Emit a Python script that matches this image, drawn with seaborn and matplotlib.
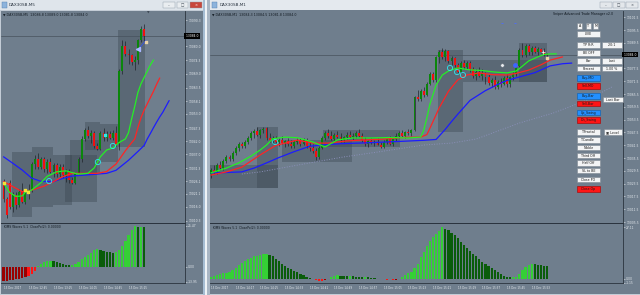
import numpy as np
import pandas as pd
import matplotlib
matplotlib.use("Agg")
import matplotlib.pyplot as plt
from matplotlib.patches import Rectangle
from matplotlib.transforms import blended_transform_factory
import seaborn as sns

sns.set_style("white")
plt.rcParams['font.family'] = ['DejaVu Sans']

# ======================= DATA : left chart (DAX30SB, M5) =======================
left_open = [13026, 13019, 13025.5, 13016, 13020.5, 13016.5, 13022, 13018, 13021.5, 13022.5,
             13033, 13035, 13032, 13035, 13031, 13034, 13030, 13032.5, 13029, 13032,
             13028.5, 13030, 13026.5, 13025.5, 13029.5, 13035, 13043, 13046.5, 13044, 13045.5,
             13040, 13039, 13045.5, 13043.5, 13045, 13043.5, 13045.5, 13041, 13070, 13080,
             13077, 13076.5, 13073.5, 13074.5, 13082.5, 13086.8]
left_high = [13027, 13020, 13026.5, 13022, 13022, 13023, 13025.5, 13023, 13025, 13034,
             13036.5, 13037.5, 13036, 13036, 13035, 13035.5, 13033.5, 13033.5, 13033, 13033,
             13031, 13031, 13028, 13030, 13036, 13044, 13047.5, 13048, 13046.5, 13046,
             13041.5, 13046, 13047.5, 13046, 13046, 13046.5, 13048, 13071, 13082.5, 13082,
             13079, 13077, 13076, 13083, 13088, 13089]
left_low = [13018, 13011.5, 13015, 13014, 13015, 13016, 13017.5, 13017, 13019, 13022,
            13031, 13031, 13031, 13030, 13029.5, 13029.5, 13028, 13028, 13028, 13027.5,
            13026, 13025.5, 13025, 13025, 13029, 13034, 13042, 13043.5, 13041.5, 13039.5,
            13038.5, 13038.5, 13042, 13042, 13043, 13042.5, 13040, 13038.5, 13069, 13076,
            13073, 13072.5, 13070.5, 13073, 13081.5, 13081.8]
left_close = [13019, 13012.5, 13016, 13020.5, 13016.5, 13022, 13018, 13021.5, 13022.5, 13033,
              13035, 13032, 13035, 13031, 13034, 13030, 13032.5, 13029, 13032, 13028.5,
              13030, 13026.5, 13025.5, 13029.5, 13035, 13043, 13046.5, 13044, 13045.5, 13040,
              13039, 13045.5, 13043.5, 13045, 13043.5, 13045.5, 13041, 13070, 13080, 13077,
              13076.5, 13073.5, 13074.5, 13082.5, 13086.8, 13084.0]

lips_L_bar = [0, 2, 4, 6, 7, 9, 12, 14, 17, 20, 22, 24, 27, 29, 31, 33, 35, 37, 39, 40, 41, 42, 43, 44, 45, 46, 47, 48]
lips_L_val = [13025.3, 13021.6, 13020.1, 13020.3, 13021.8, 13022.6, 13025.6, 13028.1, 13029.9, 13030.3,
              13029.6, 13029.0, 13029.3, 13031.4, 13035.9, 13038.6, 13039.4, 13041.6, 13043.0, 13045.5,
              13051.0, 13056.0, 13061.5, 13065.0, 13067.5, 13070.0, 13072.5, 13074.5]
teeth_L_bar = [0, 3, 6, 9, 13, 16, 19, 22, 26, 30, 33, 36, 39, 41, 42, 43, 44, 45, 46, 47, 48, 49, 50]
teeth_L_val = [13026.0, 13024.0, 13022.0, 13022.6, 13024.2, 13026.0, 13028.0, 13029.3, 13029.3, 13029.3,
               13030.0, 13033.0, 13038.3, 13041.5, 13043.0, 13047.5, 13051.5, 13054.5, 13057.0, 13059.5,
               13062.0, 13064.8, 13067.3]
jaw_L_bar = [0, 3, 6, 9, 12, 16, 19, 22, 26, 30, 33, 36, 40, 43, 44, 45, 46, 47, 48, 49, 50, 51, 52, 53]
jaw_L_val = [13035.9, 13033.3, 13030.6, 13027.4, 13026.1, 13026.0, 13027.3, 13028.2, 13028.6, 13029.0,
             13029.3, 13030.5, 13034.5, 13038.0, 13039.2, 13040.4, 13043.0, 13045.2, 13047.5, 13049.7,
             13051.8, 13053.7, 13056.0, 13058.3]

wave_L = [-9.0, -8.9, -8.6, -8.3, -8.0, -7.6, -7.2, -6.6, -5.8, -4.6,
          -2.6, 0.6, 1.6, 2.8, 3.7, 3.8, 3.3, 2.7, 2.1, 1.7,
          1.2, 0.8, 1.3, 1.8, 2.7, 4.5, 5.9, 7.2, 8.7, 10.5,
          11.3, 10.3, 9.7, 9.2, 8.9, 8.6, 8.9, 10.6, 13.0, 16.0,
          19.5, 23.0, 25.47, 24.6, 25.0, 24.5]
wave_L_kind = "rrrrrrrrRR" "RLLLLLDDDD" "DDLLLLLLLL" "LDDDDDLLLL" "LLLDLD"

box_L_x0 = [2.7, 9.1, 15.8, 19.7, 21.3, 26.1, 30.9, 36.6]
box_L_x1 = [9.1, 15.8, 21.9, 29.9, 30.9, 30.9, 36.6, 45.3]
box_L_lo = [13011.9, 13015.9, 13016.7, 13017.9, 13029.4, 13038.6, 13033.8, 13039.8]
box_L_hi = [13037.8, 13039.8, 13036.6, 13036.6, 13042.6, 13049.7, 13049.0, 13086.4]

ring_L_bar = [14.6, 30.2, 35.0]
ring_L_val = [13026.2, 13033.8, 13040.2]
yellow_L_bar = [0.0, 6.9, 7.8]
yellow_L_val = [13025.4, 13022.6, 13021.9]

left_price_ticks = [13090.3, 13080.0, 13074.3, 13069.0, 13063.5, 13058.1, 13053.0, 13047.3,
                    13042.0, 13037.0, 13031.3, 13026.1, 13021.1, 13016.0, 13010.3]
left_time_bars = [0, 8, 16, 24, 32, 40]
left_time_labels = ['15 Dec 2017', '15 Dec 12:45', '15 Dec 13:25', '15 Dec 14:05',
                    '15 Dec 14:45', '15 Dec 15:25']
left_bid = 13084.0

# ======================= DATA : right chart (DAX30SB, M1) =======================
right_open = [13028, 13030, 13029, 13032, 13031, 13034, 13036, 13035, 13038, 13040,
              13042, 13041, 13043, 13045, 13047, 13048, 13046.5, 13048.5, 13049.5, 13045,
              13044, 13045, 13043, 13044, 13042.5, 13043.5, 13042, 13041, 13043, 13044,
              13042, 13044, 13041, 13040, 13039, 13036, 13040, 13045, 13047, 13046,
              13044.5, 13046.5, 13045.5, 13044, 13045.5, 13046.5, 13045.5, 13046, 13047, 13046,
              13044, 13042, 13043.5, 13042.5, 13043, 13041.8, 13040.5, 13043, 13044.5, 13042,
              13044.5, 13046, 13047, 13046, 13047.5, 13047, 13048.5, 13064, 13063, 13067,
              13065, 13070, 13075, 13072, 13083, 13085, 13083, 13085.5, 13081, 13082.5,
              13079, 13076, 13080, 13078, 13080, 13077, 13074, 13076, 13074, 13075.5,
              13073.5, 13070.5, 13072, 13069, 13071, 13070, 13073, 13070, 13073.5, 13075,
              13078.5, 13086, 13084, 13088, 13085, 13087, 13085, 13086.5, 13085, 13084.3]
right_high = [13031, 13032, 13033, 13034, 13035, 13037, 13037, 13039, 13041, 13043,
              13043, 13044, 13046, 13048, 13049, 13050, 13049, 13050, 13050, 13047,
              13046, 13046, 13045, 13046, 13044, 13045, 13044, 13044, 13045, 13045,
              13045, 13045, 13043, 13042, 13040, 13041, 13046, 13048, 13049, 13048,
              13047, 13048, 13047, 13046, 13047.5, 13048, 13047, 13048, 13049, 13047,
              13045.5, 13044, 13045, 13044, 13045, 13043, 13044, 13045, 13046, 13045,
              13047, 13048, 13048.5, 13048, 13049, 13049, 13064.5, 13067.5, 13068, 13069,
              13071, 13076, 13076, 13083.5, 13086, 13087, 13086.5, 13086, 13083.5, 13083,
              13080, 13081, 13081.5, 13081, 13081, 13078, 13077, 13078, 13077, 13076,
              13075, 13073, 13074, 13072, 13073, 13074, 13075, 13074, 13076, 13079.5,
              13087, 13089.5, 13089, 13089, 13088, 13088, 13087.5, 13087, 13087, 13084.5]
right_low = [13026, 13028, 13028, 13030, 13030, 13033, 13034, 13034, 13037, 13039,
             13040, 13040, 13042, 13044, 13045, 13046, 13045, 13047, 13044, 13043,
             13042, 13042, 13041, 13042, 13040.5, 13041, 13040, 13040, 13042, 13041,
             13041.5, 13040, 13039, 13038, 13034.5, 13035, 13039.5, 13044, 13045, 13044,
             13043.5, 13045, 13043, 13043, 13044.5, 13045, 13044, 13045, 13045.5, 13043,
             13041, 13040.5, 13042, 13041, 13041.5, 13040, 13040, 13042, 13041.5, 13041,
             13043.5, 13045, 13045.5, 13045, 13046.5, 13046, 13048, 13062, 13062, 13064,
             13064.5, 13069.5, 13071, 13071, 13080, 13082, 13081, 13080, 13079, 13078,
             13075.5, 13075.5, 13077, 13077, 13076, 13073, 13072, 13073.5, 13072, 13070,
             13069.5, 13069, 13068, 13068, 13069, 13069.5, 13069, 13069, 13072, 13074,
             13078, 13083, 13083, 13084, 13084, 13084.5, 13084, 13084.5, 13083.5, 13081.8]
right_close = [13030, 13029, 13032, 13031, 13034, 13036, 13035, 13038, 13040, 13042,
               13041, 13043, 13045, 13047, 13048, 13046.5, 13048.5, 13049, 13045, 13044,
               13045, 13043, 13044, 13042.5, 13043.5, 13042, 13041, 13043, 13044, 13042,
               13044, 13041, 13040, 13039, 13036, 13040, 13045, 13047, 13046, 13044.5,
               13046.5, 13045.5, 13044, 13045.5, 13046.5, 13045.5, 13046, 13047, 13046, 13044,
               13042, 13043.5, 13042.5, 13043, 13041.8, 13040.5, 13043, 13044.5, 13042, 13044.5,
               13046, 13047, 13046, 13047.5, 13047, 13048.5, 13064, 13063, 13067, 13065,
               13070, 13075, 13072, 13083, 13085, 13083, 13085.5, 13081, 13082.5, 13079,
               13076, 13080, 13078, 13080, 13077, 13074, 13076, 13074, 13075.5, 13073.5,
               13070.5, 13072, 13069, 13071, 13070, 13073, 13070, 13073.5, 13075, 13078.5,
               13086, 13084, 13088, 13085, 13087, 13085, 13086.5, 13085, 13084.3, 13084.0]

lips_R_bar = [0, 5, 9, 13, 16, 18, 20, 24, 28, 33, 37, 41, 46, 52, 58, 64, 68, 69, 70, 71,
              73, 75, 77, 80, 84, 88, 92, 96, 99, 101, 103, 106, 108, 110, 112]
lips_R_val = [13028.5, 13030.8, 13033.2, 13036.4, 13039.3, 13041.6, 13044.5, 13045.3, 13045.0, 13043.0,
              13040.7, 13044.0, 13044.9, 13044.9, 13045.1, 13044.9, 13045.3, 13048.6, 13054.3, 13060.8,
              13069.7, 13074.4, 13076.3, 13077.7, 13076.8, 13076.5, 13075.8, 13075.4, 13076.3, 13078.6,
              13081.0, 13082.9, 13084.0, 13084.3, 13084.3]
teeth_R_bar = [0, 5, 10, 16, 21, 28, 33, 38, 44, 49, 56, 63, 68, 70, 71, 74, 77, 80, 83, 87,
               91, 96, 99, 103, 107, 110, 114]
teeth_R_val = [13027.5, 13029.0, 13031.2, 13037.0, 13041.4, 13043.9, 13042.5, 13042.5, 13043.5, 13043.9,
               13044.4, 13045.2, 13045.3, 13046.5, 13049.5, 13059.0, 13066.8, 13072.1, 13074.4, 13075.4,
               13074.6, 13074.4, 13075.2, 13076.7, 13079.2, 13081.4, 13082.9]
jaw_R_bar = [0, 5, 10, 14, 18, 22, 27, 32, 36, 42, 50, 60, 69, 73, 74, 76, 78, 80, 84, 89,
             93, 96, 100, 105, 110, 114, 117]
jaw_R_val = [13028.5, 13028.7, 13029.0, 13030.8, 13033.2, 13035.7, 13038.5, 13041.0, 13041.6, 13042.2,
             13042.6, 13043.2, 13043.8, 13044.2, 13045.8, 13049.0, 13052.6, 13056.0, 13062.5, 13067.1,
             13070.0, 13071.9, 13073.5, 13075.5, 13078.7, 13079.7, 13080.0]
slow_R_bar = [10, 16, 32, 43, 54, 69, 78, 86, 100, 111, 122, 130]
slow_R_val = [13028.0, 13029.0, 13033.2, 13036.0, 13038.3, 13041.6, 13042.5, 13044.4, 13051.9, 13056.6,
              13062.7, 13068.8]

wave_R = [0.9, 1.6, 2.2, 2.6, 2.9, 3.3, 3.9, 4.7, 5.9, 7.2,
          8.4, 9.4, 10.4, 11.1, 11.8, 12.3, 12.7, 12.9, 13.0, 12.8,
          12.0, 10.6, 9.2, 8.0, 7.0, 6.0, 5.3, 4.3, 3.6, 2.6,
          1.9, 1.3, 0.6, -0.2, -0.6, -0.9, -0.8, -0.4, 0.2, 0.9,
          1.6, 1.9, 1.6, 1.5, 1.4, 1.5, 1.4, 1.3, 1.1, 1.0,
          1.05, 0.8, 0.6, 0.4, 0.2, 0.1, -0.2, -0.35, -0.25, -0.4,
          -0.3, 0.2, 1.0, 1.9, 3.0, 3.8, 5.5, 8.0, 11.3, 14.4,
          17.4, 20.0, 21.9, 23.5, 25.2, 27.11, 26.0, 25.5, 24.3, 22.8,
          21.3, 19.6, 17.9, 16.2, 14.8, 13.3, 11.8, 10.5, 9.1, 8.0,
          6.8, 5.6, 4.5, 3.5, 2.6, 1.8, 1.3, 0.8, 0.9, 1.1,
          2.5, 4.8, 6.2, 7.2, 7.9, 7.8, 7.5, 7.2, 7.0, 6.9]
wave_R_kind = ("LLLLLLLLLL" "LLLLLLLLLD" "DDDDDDDDDD" "DDDRRRRrLL" "LLDDDLDDDD"
               "LDDDDDRRrR" "rLLLLLLLLL" "LLLLLLDDDD" "DDDDDDDDDD" "DDDDDDDDLL" "LLLLLDDDDD")

box_R_x0 = [-0.3, 14.9, 23.0, 36.3, 73.6, 81.7, 100.0]
box_R_x1 = [21.7, 21.7, 45.7, 61.3, 81.7, 109.0, 109.0]
box_R_lo = [13021.4, 13021.4, 13033.6, 13040.7, 13047.7, 13071.1, 13071.1]
box_R_hi = [13032.2, 13050.0, 13043.9, 13048.6, 13086.1, 13081.4, 13089.4]

ring_R_bar = [20.8, 77.5, 79.8, 81.7]
ring_R_val = [13043.0, 13077.7, 13075.8, 13074.4]

right_price_ticks = [13101.5, 13095.5, 13089.5, 13077.5, 13071.5, 13065.5, 13059.5, 13053.5,
                     13047.5, 13041.5, 13035.5, 13029.5, 13023.5, 13017.5, 13011.5, 13005.5]
right_time_bars = [0, 8, 16, 24, 32, 40, 48, 56, 64, 72, 80, 88, 96, 104]
right_time_labels = ['15 Dec 2017', '15 Dec 14:17', '15 Dec 14:25', '15 Dec 14:33', '15 Dec 14:41',
                     '15 Dec 14:49', '15 Dec 14:57', '15 Dec 15:05', '15 Dec 15:13', '15 Dec 15:21',
                     '15 Dec 15:29', '15 Dec 15:37', '15 Dec 15:45', '15 Dec 15:53']
right_bid = 13084.0

panel_buttons = ['A', 'T', 'M', 'LIVE', 'TP R:R', '2.0:1', 'BE OFF', 'Bar', 'Last', 'Percent', '1.00 %',
                 'Buy-MO', 'Sell-MO', 'Buy-Bar', 'Last Bar', 'Sell-Bar', 'Up_Swing', 'Dn_Swing',
                 'T-Fractal', '\u25a3 Level', 'T-Candle', 'Nibble', 'Third Off', 'Half Off', 'SL to BE',
                 'Close PO', 'Close Op']

# ======================= STYLE / LAYOUT =======================
W, H = 640, 295
SLATE = '#6f7e8d'
AX_TXT = '#e4e9ee'
DARK_TXT = '#121a22'
LINE_C = '#2a333d'
BULL, BEAR, WICK = '#0b860b', '#f01010', '#1a1e23'
LIPS, TEETH, JAW = '#25f025', '#ff2424', '#1c1cff'
HIST_PAL = {'L': '#35d035', 'D': '#0a5c0a', 'R': '#ff1414', 'r': '#9a0000'}
BOX_C = '#3a4550'

fig = plt.figure(figsize=(W / 100, H / 100), dpi=100)
fig.patch.set_facecolor('#d3dbe4')


def frac(x0, y0, x1, y1):
    return [x0 / W, 1 - y1 / H, (x1 - x0) / W, (y1 - y0) / H]


def prect(ax, x0, y0, x1, y1, fc, ec='none', lw=0.0, z=1):
    ax.add_patch(Rectangle((x0, y0), x1 - x0, y1 - y0, facecolor=fc, edgecolor=ec, linewidth=lw, zorder=z))


bg = fig.add_axes([0, 0, 1, 1], zorder=0)
bg.set_xlim(0, W); bg.set_ylim(H, 0); bg.axis('off')
# left window
prect(bg, 0, 0, 204, H, '#c3ccd6')
prect(bg, 0, 0, 204, 10, '#dfe5eb')
prect(bg, 1, 10.5, 202.5, 293.5, SLATE)
# splitter
prect(bg, 202.5, 0, 204.5, H, '#a6bdd3')
prect(bg, 204.5, 0, 206.8, H, '#eef2f6')
prect(bg, 206.8, 0, 209.5, H, '#a9b6c4')
# right window
prect(bg, 209.5, 0, W, H, '#c3ccd6')
prect(bg, 209.5, 0, W, 9.5, '#e4e9ee')
prect(bg, 210, 10, W, 293.5, SLATE)

axLp = fig.add_axes(frac(1, 10.5, 185, 222.5), zorder=2)
axLi = fig.add_axes(frac(1, 222.5, 185, 283), zorder=2)
axRp = fig.add_axes(frac(210, 10.5, 623, 222.5), zorder=2)
axRi = fig.add_axes(frac(210, 222.5, 623, 283), zorder=2)


def candles(ax, o, h, l, c, w=0.62):
    o, h, l, c = (np.asarray(v, dtype=float) for v in (o, h, l, c))
    x = np.arange(len(o))
    ax.vlines(x, l, h, color=WICK, linewidth=0.45, zorder=3)
    lo = np.minimum(o, c)
    ht = np.maximum(np.abs(c - o), 0.3)
    cols = np.where(c >= o, BULL, BEAR)
    ax.bar(x, ht, w, bottom=lo, color=cols, linewidth=0, zorder=4)


def boxes(ax, x0, x1, lo, hi):
    for a, b, c, d in zip(x0, x1, lo, hi):
        ax.add_patch(Rectangle((a, c), b - a, d - c, facecolor=BOX_C, edgecolor='none', alpha=0.38, zorder=1))


def alligator(ax, lb, lv, tb, tv, jb, jv):
    sns.lineplot(x=jb, y=jv, color=JAW, linewidth=0.9, ax=ax, zorder=5)
    sns.lineplot(x=tb, y=tv, color=TEETH, linewidth=0.9, ax=ax, zorder=5)
    sns.lineplot(x=lb, y=lv, color=LIPS, linewidth=0.9, ax=ax, zorder=6)


def base_style(ax, xlim, ylim, ticks, labels, show_top=False):
    ax.set_facecolor('none')
    ax.set_xlim(*xlim); ax.set_ylim(*ylim)
    ax.set_xlabel(''); ax.set_ylabel('')
    ax.spines['left'].set_visible(False)
    ax.spines['top'].set_visible(show_top)
    for s in ('right', 'bottom', 'top'):
        ax.spines[s].set_color(LINE_C)
        ax.spines[s].set_linewidth(0.6)
    ax.yaxis.tick_right()
    ax.set_yticks(ticks)
    ax.set_yticklabels(labels)
    ax.tick_params(axis='y', direction='out', length=1.5, width=0.4, colors=AX_TXT,
                   labelsize=2.2, pad=0.8)
    ax.grid(False)


def bid_marks(ax, bid, txt):
    ax.axhline(bid, color='#47525d', linewidth=0.5, zorder=1.5)
    tr = blended_transform_factory(ax.transAxes, ax.transData)
    ax.text(1.0, bid, ' ' + txt + ' ', transform=tr, fontsize=2.2, color='white', va='center', ha='left',
            clip_on=False, zorder=10,
            bbox=dict(boxstyle='square,pad=0.3', facecolor='black', edgecolor='none'))


def time_axis(ax, bars, labels):
    ax.set_xticks(bars)
    ax.set_xticklabels(labels)
    ax.tick_params(axis='x', direction='out', length=1.5, width=0.4, colors=AX_TXT, labelsize=2.0, pad=0.8)
    for t in ax.get_xticklabels():
        t.set_ha('left')


def histogram(ax, vals, kinds):
    df = pd.DataFrame({'bar': np.arange(len(vals)), 'value': vals, 'kind': list(kinds)})
    sns.barplot(data=df, x='bar', y='value', hue='kind', palette=HIST_PAL, dodge=False,
                native_scale=True, width=0.72, saturation=1, errorbar=None, linewidth=0,
                legend=False, ax=ax)


# ---------------- left chart ----------------
boxes(axLp, box_L_x0, box_L_x1, box_L_lo, box_L_hi)
candles(axLp, left_open, left_high, left_low, left_close)
alligator(axLp, lips_L_bar, lips_L_val, teeth_L_bar, teeth_L_val, jaw_L_bar, jaw_L_val)
axLp.scatter(ring_L_bar, ring_L_val, s=14, facecolors='none', edgecolors='#2ee8ee', linewidths=0.6, zorder=7)
axLp.scatter([32.5], [13044.6], s=3, marker='s', color='#2ee8ee', zorder=7)
axLp.scatter(yellow_L_bar, yellow_L_val, s=3, marker='s', color='#f2e23a', zorder=7)
axLp.plot([43.0, 45.6], [13078.4, 13082.4], color='#3050ff', linewidth=0.5, zorder=7)
axLp.scatter([43.0], [13078.8], s=8, marker='<', color='#aab8ff', zorder=8)
axLp.scatter([45.6], [13081.6], s=4, marker='s', color='#ead2a6', zorder=8)
base_style(axLp, (-0.8, 58.08), (13009.7, 13094.2), left_price_ticks, [f'{v:.1f}' for v in left_price_ticks])
axLp.set_xticks([])
bid_marks(axLp, left_bid, '13084.0')

histogram(axLi, wave_L, wave_L_kind)
base_style(axLi, (-0.8, 58.08), (-10.2, 27.6), [25.47, 0.0, -9.3], ['25.47', '0.00', '-13.95'], show_top=True)
time_axis(axLi, left_time_bars, left_time_labels)

# ---------------- right chart ----------------
boxes(axRp, box_R_x0, box_R_x1, box_R_lo, box_R_hi)
sns.lineplot(x=slow_R_bar, y=slow_R_val, color='#8a8fb8', linewidth=0.7, linestyle=(0, (1, 1.6)), ax=axRp, zorder=2)
candles(axRp, right_open, right_high, right_low, right_close)
alligator(axRp, lips_R_bar, lips_R_val, teeth_R_bar, teeth_R_val, jaw_R_bar, jaw_R_val)
axRp.scatter(ring_R_bar, ring_R_val, s=14, facecolors='none', edgecolors='#2ee8ee', linewidths=0.6, zorder=7)
axRp.scatter([94.4], [13079.1], s=6, color='#e9ecef', edgecolors='#6d7680', linewidths=0.3, zorder=8)
axRp.scatter([98.6], [13079.1], s=6, color='#3f63ff', zorder=8)
axRp.scatter([94.4, 98.6], [13098.8, 13098.8], s=4, marker='_', color='#4d6bff', linewidths=0.6, zorder=8)
axRp.scatter([109.0], [13082.4], s=4, marker='s', color='#ead2a6', zorder=8)
axRp.scatter([107.7], [13085.2], s=6, marker='+', color='#f4f4f4', linewidths=0.5, zorder=8)
base_style(axRp, (-0.324, 133.6), (13005.27, 13104.65), right_price_ticks, [f'{v:.1f}' for v in right_price_ticks])
axRp.set_xticks([])
bid_marks(axRp, right_bid, '13084.0')

histogram(axRi, wave_R, wave_R_kind)
base_style(axRi, (-0.324, 133.6), (-2.1, 29.6), [27.11, 0.0, -1.9], ['27.11', '0.00', '-1.15'], show_top=True)
time_axis(axRi, right_time_bars, right_time_labels)

# ======================= OVERLAY : window chrome, texts, trade panel =======================
ov = fig.add_axes([0, 0, 1, 1], zorder=6)
ov.set_xlim(0, W); ov.set_ylim(H, 0); ov.axis('off'); ov.patch.set_alpha(0)

# title bars
prect(ov, 1.5, 2, 6.5, 8, '#8db3dc', '#4f7fb0', 0.3)
ov.text(8.5, 5.2, 'DAX30SB,M5', fontsize=3.0, color='#2a3440', va='center')
prect(ov, 212, 2, 217, 8, '#8db3dc', '#4f7fb0', 0.3)
ov.text(219.5, 5.0, 'DAX30SB,M1', fontsize=3.0, color='#2a3440', va='center')
for x0, fc, g in [(163, '#e9edf0', '\u2013'), (176.5, '#e9edf0', '\u25a1'), (190, '#c8473b', '\u00d7'),
                  (600, '#e3e7eb', '\u2013'), (613, '#e3e7eb', '\u25a1'), (626, '#e3e7eb', '\u00d7')]:
    prect(ov, x0, 1.5, x0 + 11.5, 8.3, fc, '#8d99a6', 0.3, z=2)
    ov.text(x0 + 5.75, 5.0, g, fontsize=2.6, ha='center', va='center',
            color='white' if fc == '#c8473b' else '#3a4450', zorder=3)

# chart info texts
ov.text(3, 14.5, '\u25bc DAX30SB,M5  13086.8 13089.0 13081.8 13084.0', fontsize=2.3, color=DARK_TXT, va='center')
ov.text(212, 14.5, '\u25bc DAX30SB,M1  13084.3 13084.5 13081.8 13084.0', fontsize=2.3, color=DARK_TXT, va='center')
ov.text(148, 12.6, '\u25bc', fontsize=2.4, color='#3b4652', ha='center', va='center')
ov.text(4, 227.5, 'KIMS Waves 5.1  ClosePo(2): 0.00000', fontsize=2.2, color=DARK_TXT, va='center')
ov.text(213, 228.0, 'KIMS Waves 5.1  ClosePo(2): 0.00000', fontsize=2.2, color=DARK_TXT, va='center')
ov.text(553, 14.5, 'Sniper Advanced Trade Manager v2.0', fontsize=2.3, color=DARK_TXT, va='center')

# trade panel buttons (layout boxes in pixels)
btn_boxes = [(577.3, 23.3, 582.3, 28.7, 'w'), (585.7, 23.3, 590.7, 28.7, 'w'), (593.3, 23.3, 598.3, 28.7, 'w'),
             (576.7, 31.0, 600.0, 36.7, 'w'), (576.7, 42.0, 600.0, 47.7, 'w'), (601.7, 42.0, 621.7, 47.7, 'w'),
             (576.7, 50.0, 600.0, 55.7, 'w'), (576.7, 58.3, 600.0, 63.7, 'w'), (601.7, 58.3, 621.7, 63.7, 'w'),
             (576.7, 66.0, 600.0, 71.3, 'w'), (601.7, 66.0, 621.7, 71.3, 'w'),
             (576.7, 75.3, 600.0, 80.7, 'b'), (576.7, 83.3, 600.0, 88.7, 'r'),
             (576.7, 93.3, 600.0, 98.7, 'b'), (602.7, 96.7, 623.0, 102.0, 'w'), (576.7, 100.7, 600.0, 106.0, 'r'),
             (576.7, 110.0, 600.0, 115.3, 'b'), (576.7, 117.3, 600.0, 122.7, 'r'),
             (576.7, 129.3, 600.0, 134.7, 'w'), (603.5, 129.3, 621.7, 134.7, 'w'),
             (576.7, 137.3, 600.0, 142.7, 'w'), (576.7, 145.0, 600.0, 150.3, 'w'),
             (576.7, 153.0, 600.0, 158.3, 'w'), (576.7, 160.3, 600.0, 165.7, 'w'),
             (576.7, 168.0, 600.0, 173.3, 'w'), (576.7, 176.7, 600.0, 182.3, 'w'),
             (576.7, 186.0, 600.0, 192.3, 'r')]
btn_face = {'w': ('#f3f4f5', '#7d8791'), 'b': ('#2290ff', '#0c5cae'), 'r': ('#ff1515', '#a30000')}
for label, (x0, y0, x1, y1, k) in zip(panel_buttons, btn_boxes):
    fc, ec = btn_face[k]
    prect(ov, x0, y0, x1, y1, fc, ec, 0.4, z=3)
    ov.text((x0 + x1) / 2, (y0 + y1) / 2 + 0.2, label, fontsize=2.3, color='#1a1a1a',
            ha='center', va='center', zorder=4)

fig.savefig('out.png', dpi=100, facecolor=fig.get_facecolor())
